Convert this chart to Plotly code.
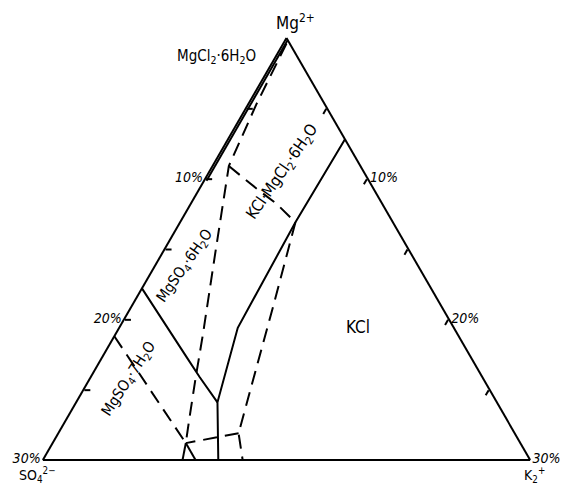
import plotly.graph_objects as go

# Compositions in % (SO4 = b axis, K2 = c axis, Mg = remainder); region Mg >= 70 %
# Solid boundary KCl / other fields
s1_so4 = [0.0, 6.0, 13.3, 17.2, 19.2]
s1_k = [7.2, 7.1, 7.3, 8.7, 10.8]
# Solid boundary MgSO4.6H2O / MgSO4.7H2O
s2_so4 = [17.8, 17.5, 17.4, 17.2]
s2_k = [0.0, 5.1, 6.7, 8.7]
# Solid boundary MgCl2.6H2O (close to left edge)
s3_so4 = [0.0, 10.0]
s3_k = [0.15, 0.15]
# Dashed line from Mg apex down to point X
d1_so4 = [0.2, 4.2, 8.1, 12.1, 15.7, 17.7, 19.6, 20.6]
d1_k = [0.2, 0.5, 1.0, 3.3, 5.4, 6.5, 7.6, 8.2]
# Solid short pieces below X
x1_so4 = [20.6, 21.4]
x1_k = [8.2, 8.6]
x2_so4 = [20.6, 20.6]
x2_k = [8.2, 9.4]
# Dashed boundary of KCl.MgCl2.6H2O field
d5_so4 = [8.1, 7.2, 6.5, 6.0]
d5_k = [1.0, 3.5, 5.3, 7.1]
# Dashed line from upper kink down to base
d2_so4 = [6.0, 10.3, 14.5, 17.0, 17.7]
d2_k = [7.1, 8.7, 10.2, 11.1, 12.3]
# Dashed connection Y -> X
d3_so4 = [17.0, 20.6]
d3_k = [11.1, 8.2]
# Dashed MgSO4.7H2O boundary
d4_so4 = [21.2, 20.6]
d4_k = [0.0, 8.2]

left_ticks = [70, 75, 80, 85, 90, 95]
left_text = ["30%", "", "20%", "", "10%", ""]
right_ticks = [5, 10, 15, 20, 25, 30]
right_text = ["", "10%", "", "20%", "", "30%"]

fig = go.Figure()

def add(so4, k, dash="solid"):
    mg = [100 - s - kk for s, kk in zip(so4, k)]
    fig.add_trace(go.Scatterternary(
        a=mg, b=so4, c=k, mode="lines",
        line=dict(color="black", width=2, dash=dash),
        hoverinfo="skip", showlegend=False))

DASH = "14px,8px"
add(s1_so4, s1_k)
add(s2_so4, s2_k)
add(s3_so4, s3_k)
add(x1_so4, x1_k)
add(x2_so4, x2_k)
add(d1_so4, d1_k, DASH)
add(d5_so4, d5_k, DASH)
add(d2_so4, d2_k, DASH)
add(d3_so4, d3_k, DASH)
add(d4_so4, d4_k, DASH)

FONT = "DejaVu Sans Condensed, DejaVu Sans, sans-serif"
tickfont = dict(family=FONT, size=14, color="black", style="italic")
axcommon = dict(showgrid=False, linecolor="black", linewidth=2,
                ticklen=6, tickwidth=1.5, tickcolor="black", tickfont=tickfont,
                title=dict(text=""))

# page body adds an 8px offset, margins compensate for it
fig.update_layout(
    width=576, height=487,
    paper_bgcolor="white", plot_bgcolor="white",
    margin=dict(l=32, r=51, t=30, b=35, autoexpand=False),
    ternary=dict(
        sum=100,
        bgcolor="white",
        aaxis=dict(min=70, tickmode="array", tickvals=left_ticks, ticktext=left_text,
                   ticks="inside", **axcommon),
        baxis=dict(min=0, showticklabels=False, ticks="", **axcommon),
        caxis=dict(min=0, tickmode="array", tickvals=right_ticks, ticktext=right_text,
                   ticks="inside", **axcommon),
    ),
)

lab = dict(family=FONT, size=15, color="black")

def px(x, y):
    return (x - 40) / 493, (460 - y) / 422

annots = [
    ("Mg<sup>2+</sup>", 295, 22, 0, 17),
    ("MgCl<sub>2</sub>·6H<sub>2</sub>O", 216, 57, 0, 15),
    ("KCl", 358, 327, 0, 17),
    ("MgSO<sub>4</sub>·6H<sub>2</sub>O", 184, 266, -55, 15),
    ("KCl·MgCl<sub>2</sub>·6H<sub>2</sub>O", 283, 172, -55, 16),
    ("MgSO<sub>4</sub>·7H<sub>2</sub>O", 128, 379, -57, 15),
    ("SO<sub>4</sub><sup>2−</sup>", 37, 475, 0, 14),
    ("K<sub>2</sub><sup>+</sup>", 534, 475, 0, 14),
]
for text, x, y, ang, size in annots:
    xx, yy = px(x, y)
    fig.add_annotation(text=text, x=xx, y=yy, xref="paper", yref="paper",
                       showarrow=False, textangle=ang,
                       font=dict(lab, size=size), xanchor="center", yanchor="middle")

fig.write_html("out.html")
